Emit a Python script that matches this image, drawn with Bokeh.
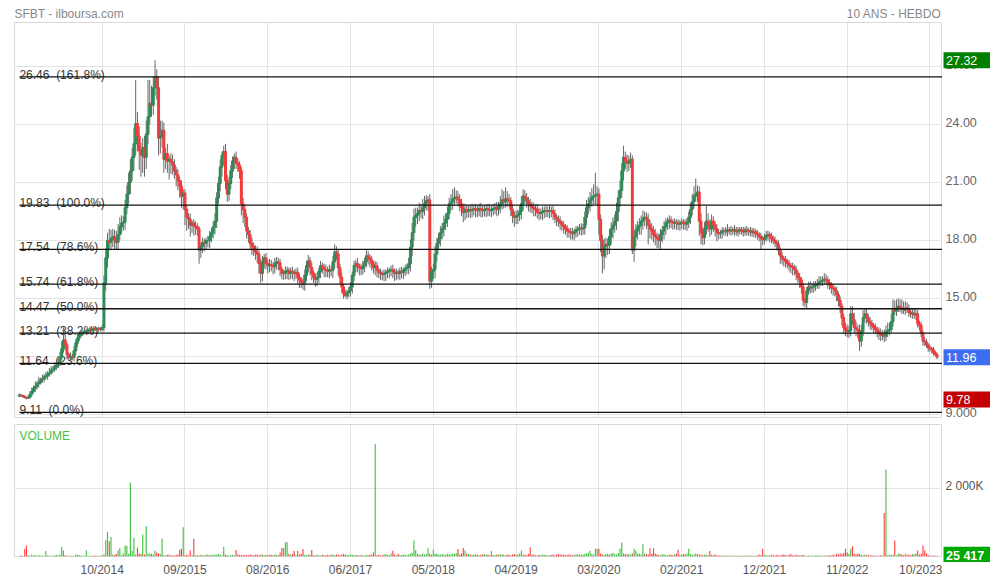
import numpy as np
from bokeh.plotting import figure
from bokeh.models import Range1d, FixedTicker, ColumnDataSource
from bokeh.layouts import column, row
from bokeh.embed import file_html
from bokeh.resources import INLINE
from bokeh.core.properties import value

# ---------------- data ----------------
title_left = "SFBT - ilboursa.com"
title_right = "10 ANS - HEBDO"
volume_title = "VOLUME"

first_open = 9.95
close = [
    10.00, 9.98, 9.92, 9.88, 9.85, 9.90, 10.05, 10.20, 10.35, 10.45,
    10.60, 10.65, 10.80, 10.85, 10.95, 11.00, 11.10, 11.15, 11.30, 11.35,
    11.50, 11.55, 11.70, 11.95, 12.40, 12.85, 12.60, 12.10, 11.95, 12.00,
    11.95, 12.30, 12.70, 12.95, 13.10, 13.20, 13.25, 13.30, 13.30, 13.35,
    13.40, 13.35, 13.45, 13.40, 13.45, 13.42, 13.40, 13.50, 15.80, 17.10,
    18.00, 17.90, 18.10, 18.20, 18.00, 17.90, 18.30, 18.70, 18.90, 18.95,
    19.70, 20.40, 21.00, 21.60, 22.30, 23.00, 24.05, 23.40, 22.65, 22.40,
    22.80, 22.30, 23.50, 24.40, 25.10, 25.00, 25.90, 26.45, 25.90, 23.30,
    23.40, 23.70, 22.20, 22.50, 22.10, 22.20, 22.05, 21.90, 21.60, 21.40,
    21.10, 20.80, 20.30, 20.45, 19.60, 19.20, 19.10, 18.80, 18.90, 18.75,
    18.70, 18.60, 17.50, 17.70, 17.90, 17.85, 18.00, 18.00, 18.20, 18.40,
    18.70, 19.00, 20.20, 20.95, 21.80, 22.40, 22.60, 21.10, 20.40, 20.95,
    21.60, 22.10, 22.30, 22.00, 21.90, 21.60, 19.90, 19.60, 19.20, 18.50,
    18.30, 17.85, 17.70, 17.50, 17.40, 17.30, 16.80, 16.30, 16.90, 17.10,
    16.80, 16.70, 16.75, 16.70, 16.65, 16.80, 16.90, 16.85, 16.50, 16.30,
    16.30, 16.40, 16.45, 16.30, 16.40, 16.35, 16.30, 16.35, 16.10, 15.95,
    15.85, 15.80, 16.20, 16.70, 16.95, 16.60, 16.30, 16.10, 16.00, 16.10,
    16.40, 16.70, 16.60, 16.50, 16.45, 16.40, 16.50, 16.45, 16.90, 17.40,
    17.30, 16.60, 16.10, 15.60, 15.25, 15.15, 15.30, 15.40, 15.60, 16.20,
    16.70, 16.80, 16.65, 16.60, 16.55, 16.70, 16.90, 17.20, 17.10, 17.00,
    16.80, 16.60, 16.70, 16.45, 16.35, 16.30, 16.25, 16.30, 16.35, 16.40,
    16.45, 16.50, 16.40, 16.30, 16.35, 16.30, 16.40, 16.35, 16.45, 16.55,
    16.60, 16.80, 17.65, 18.40, 19.20, 19.30, 19.40, 19.55, 19.50, 19.70,
    19.90, 20.05, 20.10, 15.90, 16.40, 16.50, 17.30, 17.85, 18.10, 18.40,
    18.60, 18.90, 19.10, 19.40, 19.90, 20.00, 20.15, 20.20, 20.25, 20.10,
    19.90, 19.70, 19.45, 19.60, 19.50, 19.60, 19.55, 19.60, 19.65, 19.60,
    19.55, 19.65, 19.60, 19.55, 19.60, 19.65, 19.60, 19.55, 19.60, 19.65,
    19.70, 19.60, 19.75, 19.90, 20.10, 20.00, 20.15, 20.10, 20.05, 19.60,
    19.30, 19.20, 19.25, 19.35, 19.50, 19.90, 20.30, 20.20, 20.05, 19.90,
    19.80, 19.70, 19.65, 19.60, 19.45, 19.40, 19.45, 19.50, 19.55, 19.50,
    19.55, 19.50, 19.55, 19.40, 19.20, 19.10, 19.00, 18.90, 18.80, 18.70,
    18.60, 18.50, 18.45, 18.40, 18.35, 18.45, 18.55, 18.60, 18.65, 18.60,
    18.65, 19.20, 19.70, 19.90, 20.10, 20.25, 20.30, 20.35, 20.40, 19.10,
    18.00, 17.20, 17.70, 17.80, 17.75, 18.20, 18.60, 18.80, 19.00, 19.50,
    20.20, 20.60, 21.60, 22.30, 22.10, 22.00, 22.10, 22.20, 17.50, 18.20,
    18.50, 18.70, 18.80, 19.00, 19.15, 19.20, 19.10, 18.80, 18.60, 18.50,
    18.30, 18.20, 18.10, 18.00, 18.30, 18.50, 18.70, 18.90, 19.00, 19.05,
    18.95, 18.90, 18.95, 18.90, 18.85, 18.90, 18.95, 18.90, 18.85, 18.95,
    19.20, 19.60, 20.00, 20.30, 20.40, 20.50, 19.00, 18.40, 18.15, 18.60,
    19.00, 18.80, 18.60, 19.00, 18.80, 18.60, 18.40, 18.35, 18.40, 18.50,
    18.50, 18.45, 18.55, 18.50, 18.55, 18.50, 18.55, 18.45, 18.50, 18.55,
    18.50, 18.45, 18.55, 18.50, 18.45, 18.50, 18.40, 18.45, 18.35, 18.30,
    18.20, 18.10, 18.05, 18.15, 18.25, 18.30, 18.20, 18.10, 18.00, 17.90,
    17.80, 17.50, 17.20, 17.05, 17.00, 16.90, 16.80, 16.70, 16.65, 16.60,
    16.50, 16.30, 16.10, 15.95, 15.60, 14.90, 14.80, 15.40, 15.60, 15.55,
    15.60, 15.65, 15.70, 15.75, 15.85, 15.90, 15.95, 16.00, 15.95, 15.80,
    15.70, 15.55, 15.50, 15.40, 15.20, 14.90, 14.60, 14.00, 13.50, 13.35,
    13.30, 13.35, 14.20, 13.90, 13.50, 13.40, 13.35, 12.80, 13.30, 14.00,
    14.20, 14.00, 13.80, 13.70, 13.60, 13.50, 13.40, 13.30, 13.20, 13.10,
    13.15, 13.05, 13.30, 13.35, 13.40, 13.80, 14.40, 14.35, 14.50, 14.60,
    14.50, 14.45, 14.40, 14.50, 14.45, 14.30, 14.20, 14.25, 14.15, 14.20,
    13.70, 13.60, 13.20, 12.80, 12.75, 12.60, 12.45, 12.40, 12.35, 12.20,
    12.10, 11.96,
]

# upper / lower shadow lengths, in hundredths
wick_up = [
    10, 5, 5, 8, 5, 10, 15, 20, 15, 25,
    15, 30, 10, 20, 15, 20, 15, 25, 20, 15,
    20, 15, 20, 30, 40, 65, 30, 15, 10, 20,
    15, 25, 20, 20, 15, 20, 10, 15, 10, 10,
    10, 15, 10, 10, 5, 10, 10, 15, 40, 50,
    40, 60, 45, 40, 35, 50, 55, 50, 40, 30,
    40, 45, 50, 60, 50, 80, 225, 60, 50, 40,
    50, 60, 70, 190, 120, 90, 60, 87, 40, 60,
    80, 50, 40, 30, 50, 20, 30, 40, 30, 20,
    30, 20, 30, 20, 20, 25, 20, 30, 15, 20,
    25, 20, 15, 20, 25, 20, 15, 25, 30, 25,
    30, 40, 30, 35, 40, 20, 30, 40, 30, 35,
    30, 25, 20, 30, 25, 20, 20, 30, 25, 20,
    20, 25, 30, 20, 25, 30, 20, 25, 30, 20,
    25, 20, 30, 25, 20, 30, 25, 20, 20, 15,
    20, 25, 20, 15, 20, 25, 15, 20, 25, 20,
    15, 20, 30, 25, 30, 20, 25, 15, 20, 25,
    20, 25, 15, 20, 25, 20, 25, 20, 30, 40,
    30, 25, 20, 25, 15, 20, 15, 20, 25, 20,
    25, 20, 30, 15, 20, 25, 20, 30, 25, 20,
    20, 15, 25, 20, 15, 20, 15, 20, 15, 20,
    15, 20, 25, 15, 20, 15, 20, 25, 15, 20,
    20, 30, 40, 50, 45, 40, 30, 40, 35, 45,
    40, 30, 20, 30, 25, 30, 40, 30, 30, 35,
    30, 40, 30, 35, 30, 40, 50, 55, 35, 30,
    30, 25, 20, 30, 25, 20, 25, 30, 20, 25,
    20, 25, 30, 20, 25, 20, 25, 30, 20, 25,
    25, 30, 25, 40, 55, 45, 60, 40, 30, 20,
    25, 20, 30, 25, 30, 40, 35, 30, 25, 20,
    25, 20, 25, 20, 30, 25, 20, 25, 20, 25,
    20, 25, 20, 25, 20, 15, 20, 25, 15, 20,
    15, 20, 15, 20, 25, 15, 20, 15, 20, 25,
    20, 30, 40, 35, 40, 45, 60, 115, 40, 30,
    25, 30, 40, 35, 30, 40, 35, 40, 35, 45,
    40, 50, 40, 60, 30, 35, 30, 35, 20, 40,
    35, 30, 35, 30, 40, 30, 25, 30, 25, 30,
    25, 30, 20, 25, 30, 25, 30, 25, 20, 25,
    20, 15, 20, 15, 20, 15, 20, 15, 20, 20,
    30, 35, 40, 50, 80, 35, 30, 40, 30, 35,
    80, 40, 30, 35, 25, 20, 25, 20, 15, 20,
    15, 20, 30, 15, 20, 15, 25, 15, 20, 15,
    15, 20, 15, 20, 15, 20, 15, 20, 15, 20,
    15, 20, 15, 20, 25, 20, 15, 20, 15, 20,
    15, 20, 15, 20, 15, 20, 15, 20, 15, 20,
    15, 20, 15, 20, 15, 20, 15, 20, 25, 30,
    20, 25, 20, 25, 30, 25, 20, 30, 25, 20,
    20, 15, 20, 15, 20, 15, 20, 15, 20, 25,
    30, 25, 40, 40, 35, 30, 25, 30, 35, 40,
    30, 25, 20, 25, 20, 15, 20, 15, 20, 25,
    20, 25, 30, 40, 35, 40, 55, 50, 45, 40,
    35, 45, 40, 35, 30, 25, 20, 25, 20, 25,
    20, 15, 20, 15, 20, 15, 10, 15, 10, 15,
    10, 10,
]
wick_dn = [
    5, 8, 5, 6, 7, 5, 10, 15, 10, 20,
    15, 20, 10, 15, 20, 15, 20, 15, 10, 15,
    15, 20, 15, 20, 15, 20, 30, 25, 15, 20,
    15, 20, 25, 20, 15, 10, 15, 10, 10, 15,
    10, 10, 15, 10, 10, 15, 10, 10, 20, 40,
    50, 40, 40, 45, 50, 35, 40, 30, 35, 40,
    40, 35, 50, 60, 50, 70, 60, 80, 100, 110,
    90, 100, 60, 50, 40, 60, 50, 40, 60, 90,
    80, 60, 70, 50, 60, 95, 60, 50, 40, 60,
    50, 60, 60, 70, 80, 70, 50, 60, 40, 50,
    40, 35, 70, 40, 35, 40, 30, 35, 40, 30,
    30, 40, 35, 30, 40, 50, 50, 45, 40, 35,
    30, 35, 40, 30, 35, 40, 60, 70, 50, 40,
    40, 35, 45, 30, 40, 45, 50, 50, 40, 35,
    30, 40, 35, 30, 40, 35, 30, 40, 35, 30,
    35, 30, 40, 35, 30, 35, 40, 30, 35, 40,
    30, 35, 40, 30, 35, 40, 35, 30, 40, 35,
    30, 35, 30, 40, 35, 30, 35, 30, 40, 35,
    30, 40, 35, 30, 25, 10, 20, 25, 30, 35,
    30, 35, 30, 40, 35, 30, 35, 30, 35, 40,
    35, 30, 40, 35, 30, 35, 30, 35, 40, 30,
    35, 30, 35, 40, 35, 30, 35, 30, 35, 30,
    30, 35, 40, 45, 40, 50, 45, 40, 35, 40,
    40, 35, 50, 40, 35, 40, 45, 40, 35, 40,
    35, 40, 35, 40, 30, 35, 40, 35, 30, 35,
    40, 45, 50, 40, 35, 30, 40, 35, 30, 40,
    35, 30, 40, 35, 30, 40, 35, 30, 35, 30,
    30, 35, 30, 35, 30, 35, 30, 35, 30, 35,
    40, 50, 35, 40, 35, 40, 35, 30, 35, 40,
    35, 30, 40, 35, 30, 35, 30, 40, 35, 30,
    30, 35, 30, 35, 30, 35, 30, 35, 30, 35,
    30, 35, 30, 35, 30, 35, 30, 35, 30, 35,
    30, 35, 40, 35, 40, 35, 40, 45, 50, 80,
    60, 90, 70, 60, 50, 45, 40, 50, 40, 45,
    50, 45, 40, 50, 40, 45, 40, 35, 20, 60,
    50, 45, 40, 50, 45, 40, 50, 100, 50, 45,
    40, 45, 50, 40, 45, 40, 45, 40, 35, 40,
    30, 35, 30, 35, 30, 35, 30, 35, 30, 35,
    30, 35, 30, 35, 30, 40, 75, 60, 40, 35,
    30, 35, 40, 30, 35, 40, 45, 30, 25, 30,
    25, 20, 25, 20, 25, 20, 25, 20, 25, 20,
    20, 25, 20, 25, 20, 25, 20, 25, 20, 25,
    25, 60, 30, 25, 20, 25, 30, 25, 20, 25,
    30, 25, 40, 30, 35, 30, 25, 30, 35, 40,
    30, 35, 30, 40, 35, 30, 25, 30, 20, 30,
    25, 30, 25, 20, 25, 20, 25, 20, 25, 30,
    25, 30, 35, 30, 35, 30, 35, 40, 35, 30,
    30, 35, 30, 25, 30, 35, 40, 50, 30, 25,
    25, 30, 25, 30, 25, 30, 25, 30, 35, 30,
    25, 30, 25, 30, 25, 20, 25, 20, 25, 20,
    20, 25, 20, 25, 20, 25, 20, 25, 20, 25,
    20, 25, 20, 25, 20, 15, 20, 15, 20, 15,
    10, 10,
]

# weekly volume, thousands of shares
volume_k = [
    20, 35, 15, 220, 325, 40, 25, 60, 30, 45,
    20, 50, 25, 30, 15, 160, 30, 20, 25, 15,
    40, 45, 30, 60, 280, 180, 45, 25, 20, 30,
    25, 15, 60, 55, 45, 30, 25, 20, 180, 30,
    15, 25, 20, 30, 20, 25, 20, 40, 60, 475,
    720, 450, 570, 60, 45, 70, 180, 250, 40, 90,
    320, 310, 80, 2176, 170, 550, 60, 255, 90, 70,
    650, 60, 890, 80, 90, 70, 60, 180, 120, 90,
    70, 530, 40, 30, 50, 60, 30, 40, 20, 50,
    60, 200, 230, 860, 40, 60, 30, 180, 40, 520,
    30, 40, 30, 50, 40, 30, 60, 50, 40, 50,
    40, 60, 50, 70, 60, 40, 280, 60, 40, 30,
    40, 50, 40, 190, 60, 50, 40, 50, 40, 50,
    40, 60, 50, 40, 50, 60, 40, 50, 60, 40,
    50, 40, 60, 50, 40, 60, 50, 40, 120, 250,
    250, 420, 420, 80, 60, 70, 160, 50, 160, 60,
    80, 220, 50, 40, 60, 50, 190, 40, 30, 50,
    40, 30, 50, 40, 30, 50, 40, 60, 50, 40,
    60, 50, 40, 50, 70, 60, 50, 40, 60, 50,
    40, 50, 40, 30, 50, 40, 30, 50, 40, 60,
    50, 120, 3310, 40, 50, 30, 40, 60, 70, 50,
    40, 90, 170, 60, 40, 80, 50, 40, 60, 50,
    40, 60, 80, 110, 470, 190, 80, 60, 50, 90,
    60, 70, 240, 80, 60, 200, 90, 70, 60, 50,
    70, 60, 50, 80, 70, 60, 90, 70, 100, 220,
    60, 90, 250, 180, 90, 70, 60, 50, 60, 50,
    60, 40, 50, 60, 70, 50, 60, 40, 160, 50,
    40, 60, 50, 70, 60, 50, 40, 60, 50, 40,
    60, 70, 50, 60, 90, 180, 60, 50, 40, 70,
    270, 60, 50, 40, 30, 50, 40, 60, 50, 40,
    30, 40, 50, 60, 40, 50, 70, 60, 50, 60,
    40, 50, 60, 50, 40, 60, 50, 70, 60, 50,
    60, 80, 90, 110, 170, 80, 60, 230, 230, 230,
    90, 60, 50, 80, 70, 60, 90, 110, 80, 60,
    100, 230, 410, 90, 70, 60, 80, 50, 90, 230,
    170, 80, 90, 60, 360, 90, 70, 60, 240, 80,
    240, 90, 60, 50, 40, 70, 60, 50, 40, 60,
    50, 40, 60, 80, 200, 60, 50, 70, 60, 90,
    230, 70, 50, 60, 90, 70, 60, 50, 40, 60,
    50, 40, 160, 50, 40, 60, 30, 40, 20, 30,
    20, 30, 20, 25, 30, 20, 30, 25, 20, 30,
    25, 20, 30, 20, 25, 30, 20, 25, 20, 30,
    60, 40, 230, 50, 30, 40, 30, 50, 40, 30,
    50, 40, 30, 50, 60, 40, 30, 50, 70, 40,
    30, 50, 40, 30, 40, 50, 30, 20, 30, 20,
    30, 20, 30, 40, 20, 30, 20, 30, 20, 30,
    40, 30, 50, 40, 80, 60, 90, 70, 100, 230,
    120, 80, 230, 300, 80, 60, 90, 70, 50, 40,
    60, 40, 50, 30, 40, 30, 20, 30, 20, 40,
    30, 1280, 2560, 40, 60, 50, 60, 470, 40, 90,
    70, 60, 40, 80, 50, 60, 40, 70, 60, 90,
    180, 60, 80, 325, 180, 90, 40, 30, 20, 30,
    20, 25.417,
]

fib_levels = [26.46, 19.83, 17.54, 15.74, 14.47, 13.21, 11.64, 9.11]
fib_pcts = ["161.8%", "100.0%", "78.6%", "61.8%", "50.0%", "38.2%", "23.6%", "0.0%"]

x_tick_idx = [47, 94, 141, 188, 235, 282, 329, 376, 423, 470, 517]
x_tick_labels = ["10/2014", "09/2015", "08/2016", "06/2017", "05/2018", "04/2019",
                 "03/2020", "02/2021", "12/2021", "11/2022", "10/2023"]
price_ticks = [9, 12, 15, 18, 21, 24, 27]
price_tick_labels = ["9.000", "12.00", "15.00", "18.00", "21.00", "24.00", "27.00"]
vol_ticks = [2000]
vol_tick_labels = ["2 000K"]

# ---------------- derived ----------------
N = len(close)
xs = np.arange(N)
c = np.array(close)
o = np.array([first_open] + close[:-1])
body_top = np.maximum(o, c)
body_bot = np.minimum(o, c)
hi = body_top + np.array(wick_up) / 100.0
lo = body_bot - np.array(wick_dn) / 100.0
rising = c >= o
GREEN_C, RED_C = "#2e8b57", "#f03c3c"
GREEN_V, RED_V = "#3cc03c", "#ff3b3b"
candle_col = [GREEN_C if r else RED_C for r in rising]
vol_col = [GREEN_V if r else RED_V for r in rising]

FONT = "Liberation Sans"
GRID = "#e3e3e3"
OUTLINE = "#d9d9d9"
FRAME_W = 928          # chart panel width (px)
SIDE_W = 48            # right label column width (px)
PRICE_H = 395          # price panel height (px)
GAP = 7                # gap between panels (px)
VOL_H = 132            # volume panel height (px)
HEAD_H = 22            # header strip height (px)
LEFT = 14
TOTAL_W = LEFT + FRAME_W + SIDE_W

x_range = Range1d(-2.8, N + 2.1)
y_lo, y_hi = 8.845, 29.275
p_per_px = (y_hi - y_lo) / PRICE_H
v_hi = 3882.0
v_per_px = v_hi / VOL_H


def bare(fig):
    fig.toolbar_location = None
    fig.outline_line_color = None
    fig.background_fill_color = "white"
    fig.border_fill_color = "white"
    return fig


def no_grid(fig):
    for g in fig.grid:
        g.visible = False
    return fig


# ---------------- header strip ----------------
head = bare(figure(width=TOTAL_W, height=HEAD_H, x_range=Range1d(0, TOTAL_W),
                   y_range=Range1d(HEAD_H, 0), x_axis_location=None, y_axis_location=None,
                   output_backend="svg", toolbar_location=None,
                   min_border_left=0, min_border_right=0, min_border_top=0, min_border_bottom=0))
no_grid(head)
head.text(x=[LEFT, LEFT + FRAME_W - 1], y=[13, 13], text=[title_left, title_right],
          text_align=["left", "right"], text_baseline="alphabetic",
          text_font=value(FONT), text_font_size="12px", text_color="#888888")

# ---------------- price panel ----------------
p1 = figure(frame_width=FRAME_W, frame_height=PRICE_H, x_range=x_range,
            y_range=Range1d(y_lo, y_hi), output_backend="svg", toolbar_location=None,
            min_border_left=LEFT, min_border_top=0, min_border_bottom=GAP, min_border_right=0)
bare(p1)
p1.outline_line_color = OUTLINE
p1.xaxis.visible = False
p1.yaxis.visible = False
p1.xgrid.ticker = FixedTicker(ticks=x_tick_idx)
p1.ygrid.ticker = FixedTicker(ticks=price_ticks)
for g in (p1.xgrid, p1.ygrid):
    g.grid_line_color = GRID
    g.grid_line_width = 1

fib_text = [f"{lv:.2f} \u00a0({pc})" for lv, pc in zip(fib_levels, fib_pcts)]
p1.text(x=[xs[0]] * len(fib_levels), y=fib_levels, text=fib_text,
        text_font=value(FONT), text_font_size="12px", text_color="#333333",
        text_baseline="alphabetic", text_align="left", y_offset=-2)

src = ColumnDataSource(dict(x=xs, top=body_top, bot=body_bot, hi=hi, lo=lo, col=candle_col))
p1.segment(x0="x", y0="hi", x1="x", y1="lo", line_color="#666666", line_width=1, source=src)
p1.vbar(x="x", width=1.0, top="top", bottom="bot", fill_color="col", line_color="col",
        line_width=1.2, source=src)

p1.segment(x0=[xs[0]] * len(fib_levels), x1=[x_range.end] * len(fib_levels),
           y0=fib_levels, y1=fib_levels, line_color="#111111", line_width=1.3)

# ---------------- volume panel ----------------
p2 = figure(frame_width=FRAME_W, frame_height=VOL_H, x_range=x_range,
            y_range=Range1d(0, v_hi), output_backend="svg", toolbar_location=None,
            min_border_left=LEFT, min_border_top=0, min_border_bottom=0, min_border_right=0)
bare(p2)
p2.outline_line_color = OUTLINE
p2.yaxis.visible = False
p2.xgrid.ticker = FixedTicker(ticks=x_tick_idx)
p2.ygrid.ticker = FixedTicker(ticks=vol_ticks)
for g in (p2.xgrid, p2.ygrid):
    g.grid_line_color = GRID
    g.grid_line_width = 1
xa = p2.xaxis[0]
xa.ticker = FixedTicker(ticks=x_tick_idx)
xa.major_label_overrides = {t: l for t, l in zip(x_tick_idx, x_tick_labels)}
xa.axis_line_color = None
xa.major_tick_line_color = None
xa.minor_tick_line_color = None
xa.major_tick_out = 0
xa.major_label_standoff = 6
xa.major_label_text_font = FONT
xa.major_label_text_font_size = "12px"
xa.major_label_text_color = "#555555"

p2.segment(x0=xs, y0=[0] * N, x1=xs, y1=volume_k, line_color=vol_col, line_width=1.1)
p2.text(x=[xs[0]], y=[v_hi], text=[volume_title], text_font=value(FONT), text_font_size="12px",
        text_color="#44c244", text_baseline="top", text_align="left", y_offset=4)

# ---------------- right label column ----------------
t1 = bare(figure(frame_width=SIDE_W, frame_height=PRICE_H + GAP, x_range=Range1d(0, SIDE_W),
                 y_range=Range1d(y_lo - GAP * p_per_px, y_hi), x_axis_location=None, y_axis_location=None,
                 output_backend="svg", toolbar_location=None,
                 min_border_left=0, min_border_top=0, min_border_bottom=0, min_border_right=0))
no_grid(t1)
t1.text(x=[3] * len(price_ticks), y=price_ticks, text=price_tick_labels, text_font=value(FONT),
        text_font_size="12.5px", text_color="#666666", text_baseline="middle", y_offset=-2)

tag_vals = [float(hi.max()), float(c[-1]), float(lo.min())]
tag_text = [f"{hi.max():.2f}", f"{c[-1]:.2f}", f"{lo.min():.2f}"]
tag_cols = ["#008000", "#3d6ef2", "#c40000"]
t1.rect(x=[SIDE_W / 2 + 0.5] * 3, y=tag_vals, width=SIDE_W - 1, height=16, height_units="screen",
        fill_color=tag_cols, line_color=None)
t1.text(x=[3.5] * 3, y=tag_vals, text=tag_text, text_font=value(FONT), text_font_size="12.5px",
        text_color="white", text_baseline="middle")

t2 = bare(figure(frame_width=SIDE_W, frame_height=VOL_H + 6, x_range=Range1d(0, SIDE_W),
                 y_range=Range1d(-6 * v_per_px, v_hi), x_axis_location=None, y_axis_location=None,
                 output_backend="svg", toolbar_location=None,
                 min_border_left=0, min_border_top=0, min_border_bottom=0, min_border_right=0))
no_grid(t2)
t2.text(x=[3] * len(vol_ticks), y=vol_ticks, text=vol_tick_labels, text_font=value(FONT),
        text_font_size="12px", text_color="#555555", text_baseline="middle", y_offset=-2)
last_vol = f"{int(round(volume_k[-1] * 1000)):,}".replace(",", " ")
t2.rect(x=[SIDE_W / 2 + 0.5], y=[volume_k[-1]], width=SIDE_W - 1, height=18, height_units="screen",
        fill_color="#00a800", line_color=None)
t2.text(x=[3.5], y=[volume_k[-1]], text=[last_vol], text_font=value(FONT), text_font_size="12.5px",
        text_color="white", text_baseline="middle", text_font_style="bold")

layout = column(head, row(column(p1, p2, spacing=0), column(t1, t2, spacing=0), spacing=0), spacing=0)
open("out.html", "w").write(file_html(layout, INLINE))
